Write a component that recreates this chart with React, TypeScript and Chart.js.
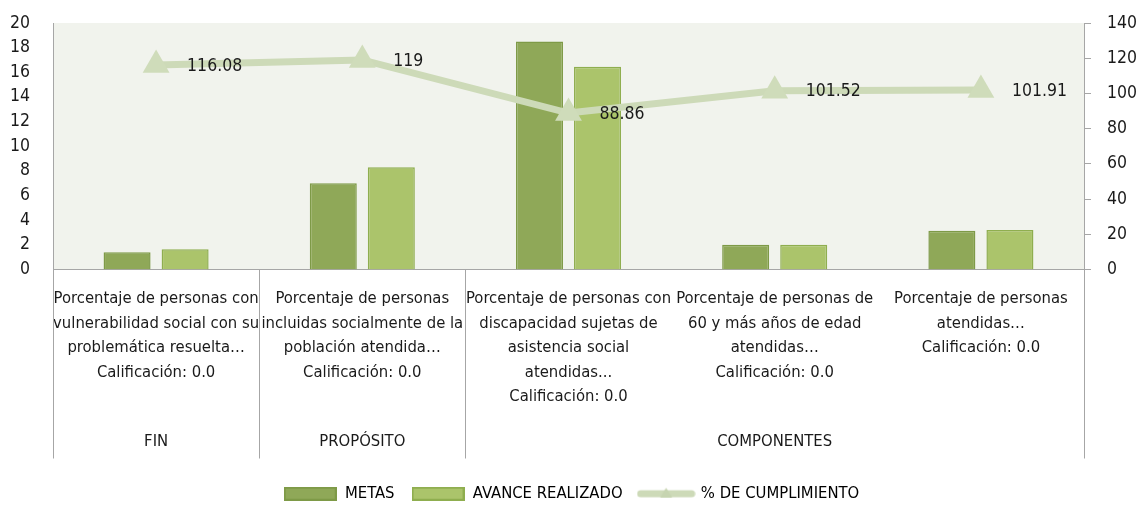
import React, { useEffect, useRef } from "react";
import { Chart, registerables } from "chart.js";

Chart.register(...registerables);

const categories: string[][] = [
  ["Porcentaje de personas con", "vulnerabilidad social con su", "problemática resuelta…", "Calificación: 0.0"],
  ["Porcentaje de personas", "incluidas socialmente de la", "población atendida…", "Calificación: 0.0"],
  ["Porcentaje de personas con", "discapacidad sujetas de", "asistencia social", "atendidas...", "Calificación: 0.0"],
  ["Porcentaje de personas de", "60 y más años de edad", "atendidas…", "Calificación: 0.0"],
  ["Porcentaje de personas", "atendidas…", "Calificación: 0.0"],
];
const groupLabels = ["FIN", "PROPÓSITO", "COMPONENTES"];
const groupStarts = [0, 1, 2];
const groupEnds = [0, 1, 4];

const metas = [1.4, 7.0, 18.5, 2.0, 3.15];
const avance = [1.65, 8.3, 16.45, 2.0, 3.2];
const cumplimiento = [116.08, 119, 88.86, 101.52, 101.91];

const leftMax = 20;
const leftStep = 2;
const rightMax = 140;
const rightStep = 20;

const FONT = "'Liberation Sans Narrow', 'DejaVu Sans Condensed', 'Roboto', sans-serif";
const C_METAS = "#8fa858";
const C_METAS_B = "#7e9a47";
const C_AVANCE = "#abc46b";
const C_AVANCE_B = "#8fae4f";
const C_LINE = "#cddab8";
const C_AXIS = "#a6a6a6";

function boxImage(fill: string, stroke: string) {
  const c = document.createElement("canvas");
  c.width = 53;
  c.height = 14;
  const g = c.getContext("2d")!;
  g.fillStyle = fill;
  g.fillRect(0, 0, 53, 14);
  g.strokeStyle = stroke;
  g.lineWidth = 2;
  g.strokeRect(1, 1, 51, 12);
  return c;
}

function lineImage() {
  const c = document.createElement("canvas");
  c.width = 59;
  c.height = 16;
  const g = c.getContext("2d")!;
  g.strokeStyle = C_LINE;
  g.lineWidth = 7;
  g.lineCap = "round";
  g.beginPath();
  g.moveTo(4, 8);
  g.lineTo(55, 8);
  g.stroke();
  g.fillStyle = "#c6d4b0";
  g.beginPath();
  g.moveTo(29.5, 2);
  g.lineTo(35.5, 12);
  g.lineTo(23.5, 12);
  g.closePath();
  g.fill();
  return c;
}

const bgPlugin = {
  id: "plotBg",
  beforeDraw(chart: any) {
    const { ctx, chartArea } = chart;
    ctx.save();
    ctx.fillStyle = "#f1f3ed";
    ctx.fillRect(chartArea.left, chartArea.top, chartArea.right - chartArea.left, chartArea.bottom - chartArea.top);
    ctx.restore();
  },
};

const groupPlugin = {
  id: "groupAxis",
  afterDraw(chart: any) {
    const { ctx, chartArea } = chart;
    const x = chart.scales.x;
    const half = (x.getPixelForValue(1) - x.getPixelForValue(0)) / 2;
    const y0 = chartArea.bottom;
    const y1 = chartArea.bottom + 189;
    ctx.save();
    ctx.strokeStyle = C_AXIS;
    ctx.lineWidth = 1;
    const bounds: number[] = [x.getPixelForValue(groupStarts[0]) - half];
    groupEnds.forEach((e) => bounds.push(x.getPixelForValue(e) + half));
    bounds.forEach((bx) => {
      const px = Math.round(bx) + 0.5;
      ctx.beginPath();
      ctx.moveTo(px, y0);
      ctx.lineTo(px, y1);
      ctx.stroke();
    });
    ctx.fillStyle = "#1a1a1a";
    ctx.font = `16.5px ${FONT}`;
    ctx.textAlign = "center";
    ctx.textBaseline = "middle";
    groupLabels.forEach((lab, i) => {
      const cx = (x.getPixelForValue(groupStarts[i]) + x.getPixelForValue(groupEnds[i])) / 2;
      ctx.fillText(lab, cx, chartArea.bottom + 172);
    });
    ctx.restore();
  },
};

const labelPlugin = {
  id: "lineLabels",
  afterDatasetsDraw(chart: any) {
    const { ctx } = chart;
    const idx = chart.data.datasets.findIndex((d: any) => d.type === "line");
    const meta = chart.getDatasetMeta(idx);
    ctx.save();
    ctx.fillStyle = "#1a1a1a";
    ctx.font = `17.5px ${FONT}`;
    ctx.textAlign = "left";
    ctx.textBaseline = "middle";
    meta.data.forEach((pt: any, i: number) => {
      ctx.fillText(String(cumplimiento[i]), pt.x + 31, pt.y + 1);
    });
    ctx.restore();
  },
};

export default function App() {
  const ref = useRef<HTMLCanvasElement>(null);
  useEffect(() => {
    const imgs = [boxImage(C_METAS, C_METAS_B), boxImage(C_AVANCE, C_AVANCE_B), lineImage()];
    const chart = new Chart(ref.current!, {
      data: {
        labels: categories,
        datasets: [
          {
            type: "line",
            label: "% DE CUMPLIMIENTO",
            data: cumplimiento,
            yAxisID: "y1",
            borderColor: C_LINE,
            backgroundColor: C_LINE,
            borderWidth: 7,
            pointStyle: "triangle",
            pointRadius: 15.5,
            pointBorderWidth: 0,
            pointBackgroundColor: "#cfdcba",
            clip: false,
            order: 0,
          },
          {
            type: "bar",
            label: "METAS",
            data: metas,
            yAxisID: "y",
            backgroundColor: C_METAS,
            borderColor: C_METAS_B,
            borderWidth: 1.5,
            categoryPercentage: 0.563,
            barPercentage: 0.81,
            order: 1,
          },
          {
            type: "bar",
            label: "AVANCE REALIZADO",
            data: avance,
            yAxisID: "y",
            backgroundColor: C_AVANCE,
            borderColor: C_AVANCE_B,
            borderWidth: 1.5,
            categoryPercentage: 0.563,
            barPercentage: 0.81,
            order: 2,
          },
        ],
      } as any,
      options: {
        animation: false,
        responsive: true,
        maintainAspectRatio: false,
        layout: { autoPadding: false, padding: { top: 23, left: 0, right: 0, bottom: -7 } },
        plugins: {
          tooltip: { enabled: false },
          legend: {
            position: "bottom",
            labels: {
              usePointStyle: true,
              pointStyleWidth: 53,
              boxHeight: 14,
              padding: 17,
              color: "#1a1a1a",
              font: { family: FONT, size: 16.5 },
              generateLabels: () => [
                { text: "METAS", pointStyle: imgs[0], fillStyle: C_METAS, strokeStyle: C_METAS_B, lineWidth: 0, hidden: false, datasetIndex: 1 },
                { text: "AVANCE REALIZADO", pointStyle: imgs[1], fillStyle: C_AVANCE, strokeStyle: C_AVANCE_B, lineWidth: 0, hidden: false, datasetIndex: 2 },
                { text: "% DE CUMPLIMIENTO", pointStyle: imgs[2], fillStyle: C_LINE, strokeStyle: C_LINE, lineWidth: 0, hidden: false, datasetIndex: 0 },
              ] as any,
            },
          },
        },
        scales: {
          x: {
            grid: { display: false, drawTicks: false },
            border: { display: true, color: C_AXIS, width: 1 },
            ticks: {
              autoSkip: false,
              maxRotation: 0,
              minRotation: 0,
              padding: 17,
              color: "#1a1a1a",
              font: { family: FONT, size: 16.5, lineHeight: 1.49 },
            },
            afterFit: (s: any) => {
              s.height = 199;
            },
          },
          y: {
            position: "left",
            min: 0,
            max: leftMax,
            grid: { display: false, drawTicks: false },
            border: { display: true, color: C_AXIS, width: 1 },
            ticks: {
              stepSize: leftStep,
              autoSkip: false,
              padding: 23,
              color: "#1a1a1a",
              font: { family: FONT, size: 17.5 },
            },
            afterFit: (s: any) => {
              s.width = 53;
              s.paddingTop = 0;
              s.paddingBottom = 0;
            },
          },
          y1: {
            position: "right",
            min: 0,
            max: rightMax,
            grid: { display: true, drawOnChartArea: false, drawTicks: true, tickLength: 7, color: C_AXIS },
            border: { display: true, color: C_AXIS, width: 1 },
            ticks: {
              stepSize: rightStep,
              autoSkip: false,
              padding: 16,
              color: "#1a1a1a",
              font: { family: FONT, size: 17.5 },
            },
            afterFit: (s: any) => {
              s.width = 59;
              s.paddingTop = 0;
              s.paddingBottom = 0;
            },
          },
        },
      },
      plugins: [bgPlugin, groupPlugin, labelPlugin],
    });
    return () => chart.destroy();
  }, []);
  return (
    <div style={{ position: "fixed", left: 0, top: 0, width: 1143, height: 505, background: "#fff" }}>
      <canvas ref={ref} />
    </div>
  );
}
